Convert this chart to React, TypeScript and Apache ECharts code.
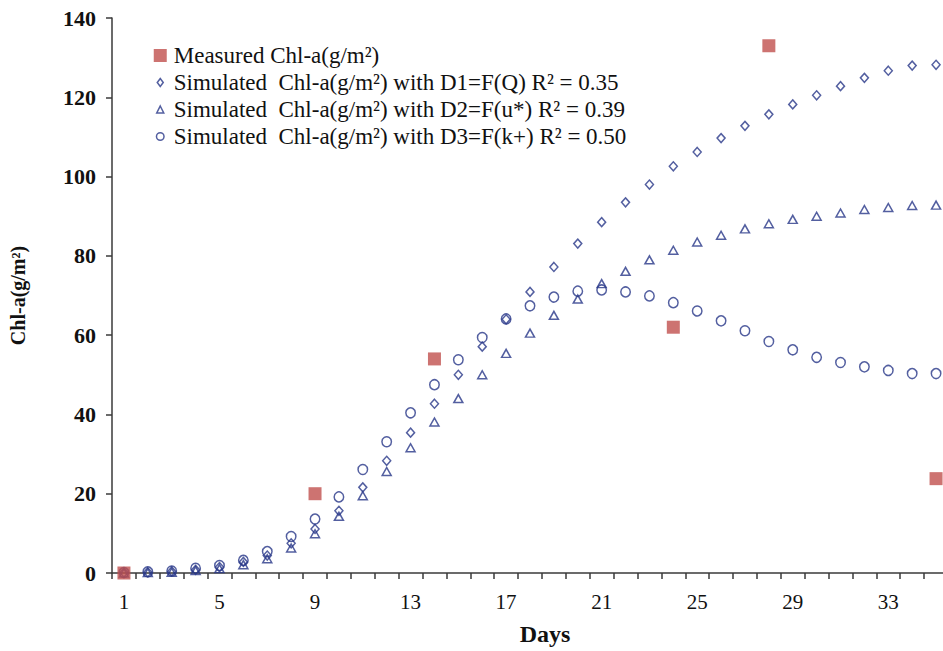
import React, { useEffect, useRef } from "react";
import * as echarts from "echarts";

const days: string[] = [
  "1","2","3","4","5","6","7","8","9","10","11","12","13","14","15","16","17","18",
  "19","20","21","22","23","24","25","26","27","28","29","30","31","32","33","34","35",
];

const measuredDays: string[] = ["1", "9", "14", "24", "28", "35"];
const measuredValues: number[] = [0, 20, 54, 62, 133, 23.8];

const d1Values: number[] = [
  0.1, 0.2, 0.4, 0.8, 1.5, 2.8, 4.4, 7.5, 11.1, 15.7, 21.6, 28.3, 35.4, 42.7, 50.0, 57.1, 64.0, 70.9,
  77.2, 83.1, 88.5, 93.5, 98.0, 102.6, 106.2, 109.7, 112.8, 115.7, 118.2, 120.5, 122.8, 124.9, 126.7, 128.0, 128.2,
];

const d2Values: number[] = [
  0, 0.1, 0.2, 0.6, 1.1, 2.1, 3.6, 6.3, 9.9, 14.3, 19.5, 25.6, 31.6, 38.1, 44.0, 50.0, 55.4, 60.5,
  65.0, 69.1, 73.0, 76.1, 79.0, 81.4, 83.5, 85.2, 86.8, 88.1, 89.2, 90.0, 90.8, 91.7, 92.2, 92.7, 92.8,
];

const d3Values: number[] = [
  0.1, 0.3, 0.5, 1.2, 1.9, 3.2, 5.4, 9.2, 13.6, 19.2, 26.1, 33.1, 40.4, 47.5, 53.8, 59.4, 64.1, 67.4,
  69.6, 71.1, 71.4, 70.9, 69.9, 68.2, 66.1, 63.6, 61.1, 58.4, 56.3, 54.4, 53.1, 52.0, 51.1, 50.3, 50.3,
];

const seriesNames: string[] = [
  "Measured Chl-a(g/m²)",
  "Simulated  Chl-a(g/m²) with D1=F(Q) R² = 0.35",
  "Simulated  Chl-a(g/m²) with D2=F(u*) R² = 0.39",
  "Simulated  Chl-a(g/m²) with D3=F(k+) R² = 0.50",
];

// small legend glyphs inside a padded 20x20 box (the M points only set the box)
const legendDiamond = "path://M0 0M20 20M10 3.9L14.6 10L10 16.1L5.4 10Z";
const legendTriangle = "path://M0 0M20 20M10 4.6L15.4 15.4L4.6 15.4Z";
const legendCircle = "path://M0 0M20 20M15.8 10A5.8 5.8 0 1 1 4.2 10A5.8 5.8 0 1 1 15.8 10Z";

const FONT = "'Liberation Serif', 'Times New Roman', Times, serif";
const NAVY = "#283788";
const RED = "#C0504D";
const AXIS = "#3A3A3A";

export default function App() {
  const ref = useRef<HTMLDivElement>(null);

  useEffect(() => {
    if (!ref.current) return;
    const chart = echarts.init(ref.current, undefined, { renderer: "svg" });
    const hollow = { color: "rgba(0,0,0,0)", borderColor: NAVY, borderWidth: 1.5 };
    chart.setOption({
      animation: false,
      backgroundColor: "#ffffff",
      textStyle: { fontFamily: FONT },
      grid: { left: 107.5, right: 0, top: 18, bottom: 75, containLabel: false },
      legend: {
        orient: "vertical",
        left: 153,
        top: 44,
        padding: 0,
        itemWidth: 13,
        itemHeight: 13,
        itemGap: 4,
        formatter: (name: string) => "{t|" + name + "}",
        textStyle: {
          fontFamily: FONT,
          fontSize: 23,
          color: "#111",
          rich: { t: { fontFamily: FONT, fontSize: 23, color: "#111", padding: [0, 0, 0, 2] } },
        },
        data: [
          { name: seriesNames[0], icon: "rect", itemStyle: { color: RED, borderWidth: 0 } },
          { name: seriesNames[1], icon: legendDiamond, itemStyle: hollow },
          { name: seriesNames[2], icon: legendTriangle, itemStyle: hollow },
          { name: seriesNames[3], icon: legendCircle, itemStyle: hollow },
        ],
      },
      xAxis: {
        type: "category",
        data: days,
        boundaryGap: true,
        name: "Days",
        nameLocation: "middle",
        nameGap: 49,
        nameTextStyle: { fontFamily: FONT, fontSize: 24, fontWeight: "bold", color: "#111", padding: [0, 0, 0, 30] },
        axisLine: { lineStyle: { color: AXIS, width: 1.5 } },
        axisTick: { show: true, interval: 0, alignWithLabel: false, length: 6, lineStyle: { color: AXIS, width: 1.5 } },
        axisLabel: { interval: 3, margin: 18, fontFamily: FONT, fontSize: 21, color: "#111" },
        splitLine: { show: false },
      },
      yAxis: {
        type: "value",
        min: 0,
        max: 140,
        interval: 20,
        name: "Chl-a(g/m²)",
        nameLocation: "middle",
        nameRotate: 90,
        nameGap: 84,
        nameTextStyle: { fontFamily: FONT, fontSize: 20, fontWeight: "bold", color: "#111" },
        axisLine: { show: true, lineStyle: { color: AXIS, width: 1.5 } },
        axisTick: { show: true, length: 6, lineStyle: { color: AXIS, width: 1.5 } },
        axisLabel: { margin: 16, fontFamily: FONT, fontSize: 22, fontWeight: "bold", color: "#111" },
        splitLine: { show: false },
      },
      series: [
        {
          name: seriesNames[1],
          type: "scatter",
          symbol: "diamond",
          symbolSize: [8, 9],
          itemStyle: hollow,
          data: days.map((d, i) => [d, d1Values[i]]),
          z: 2,
        },
        {
          name: seriesNames[2],
          type: "scatter",
          symbol: "triangle",
          symbolSize: [9, 8],
          itemStyle: hollow,
          data: days.map((d, i) => [d, d2Values[i]]),
          z: 2,
        },
        {
          name: seriesNames[3],
          type: "scatter",
          symbol: "circle",
          symbolSize: [9.5, 10],
          itemStyle: hollow,
          data: days.map((d, i) => [d, d3Values[i]]),
          z: 2,
        },
        {
          name: seriesNames[0],
          type: "scatter",
          symbol: "rect",
          symbolSize: 13,
          itemStyle: { color: RED },
          data: measuredDays.map((d, i) => [d, measuredValues[i]]),
          z: 3,
        },
      ],
    });
    return () => chart.dispose();
  }, []);

  return (
    <div
      ref={ref}
      style={{ position: "fixed", left: 0, top: 0, width: 948, height: 651, background: "#fff" }}
    />
  );
}
